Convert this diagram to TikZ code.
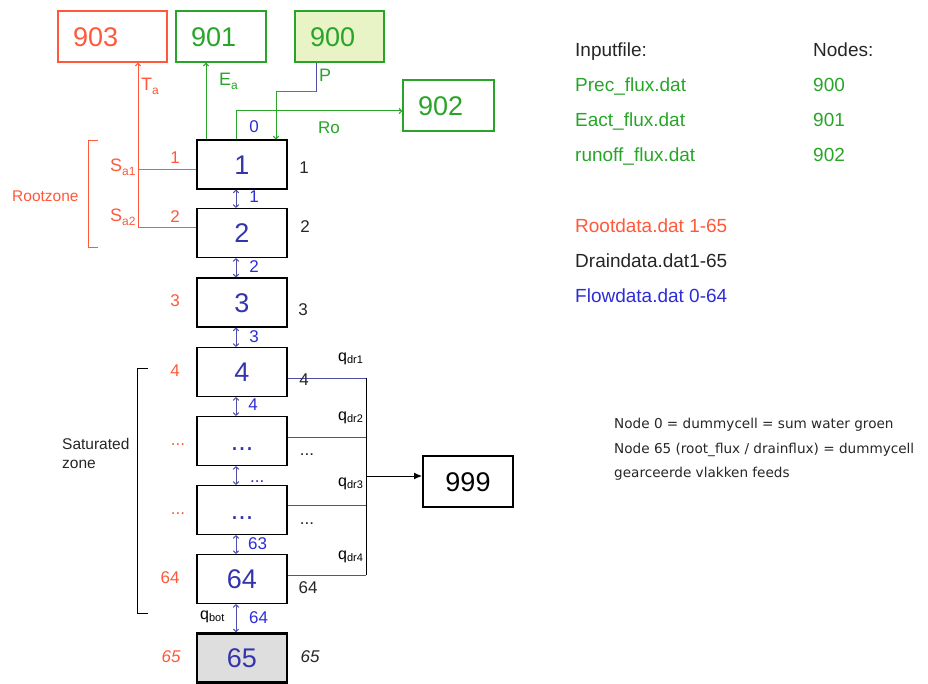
\documentclass[tikz,border=0pt]{standalone}
\usepackage{fontspec}
\setmainfont{Liberation Sans}
\newfontfamily\notefont{DejaVu Sans}
\usetikzlibrary{arrows.meta}
\definecolor{cred}{RGB}{255,88,58}
\definecolor{cgreen}{RGB}{40,165,40}
\definecolor{cfill}{RGB}{232,243,198}
\definecolor{cnum}{RGB}{52,52,172}
\definecolor{cblue}{RGB}{45,45,215}
\definecolor{cdrain}{RGB}{80,80,170}
\definecolor{cgray}{RGB}{222,222,222}
\newcommand{\qsub}[2]{#1\raisebox{-0.35ex}{\fontsize{11}{12}\selectfont #2}}
\begin{document}
\begin{tikzpicture}[x=1pt,y=-1pt,
  bigfont/.style={font=\fontsize{27}{30}\selectfont, text height=19.4pt, text depth=0pt},
  topbox/.style={bigfont, line width=1.8pt, minimum height=51pt, inner xsep=15pt, inner ysep=0pt, align=left},
  cell/.style={bigfont, draw=black, line width=1.3pt, minimum width=90pt, minimum height=49pt, inner sep=0pt, text=cnum},
  lbl/.style={font=\fontsize{17}{20}\selectfont, inner sep=0pt, anchor=base},
  qlbl/.style={font=\fontsize{16}{18}\selectfont, inner sep=0pt, anchor=base west, text=black},
  rt/.style={font=\fontsize{19}{22}\selectfont, inner sep=0pt, anchor=base west},
  note/.style={font=\notefont\fontsize{13.6}{16}\selectfont, inner sep=0pt, anchor=base west, text=black!85},
  tip/.style={-{To[length=3.5pt,width=6pt]}},
  flow/.style={cdrain, line width=1pt, {To[length=3.5pt,width=6pt]}-{To[length=3.5pt,width=6pt]}},
  drain/.style={cdrain, line width=1pt},
  conn/.style={line width=1pt}
]
\useasboundingbox (0,0) rectangle (928,684);

% top boxes
\node[topbox, draw=cred, text=cred, text width=79pt] (n903) at (112.5,36.5) {903};
\node[topbox, draw=cgreen, text=cgreen, text width=60pt] (n901) at (221,36.5) {901};
\node[topbox, draw=cgreen, fill=cfill, text=cgreen, text width=59pt] (n900) at (339.5,36.5) {900};
\node[topbox, draw=cgreen, text=cgreen, text width=61pt] (n902) at (448.5,105.5) {902};

% column cells
\node[cell] (c1) at (242,164.5) {1};
\node[cell] (c2) at (242,233) {2};
\node[cell] (c3) at (242,302.5) {3};
\node[cell] (c4) at (242,372) {4};
\node[cell] (c5) at (242,441) {...};
\node[cell] (c6) at (242,510) {...};
\node[cell] (c64) at (242,579) {64};
\node[cell, fill=cgray, line width=2.6pt] (c65) at (242,658) {65};

\node[bigfont, draw=black, line width=2pt, minimum width=90pt, minimum height=51pt, inner sep=0pt] (n999) at (468,481.5) {999};

% root extraction (red)
\coordinate (ra1) at (138,170);
\coordinate (ra2) at (138,228);
\draw[cred, conn] (ra1) -- (ra1 -| c1.west);
\draw[cred, conn] (ra2) -- (ra2 -| c2.west);
\draw[cred, conn, tip] (ra2) -- (ra2 |- n903.south);

% evaporation
\coordinate (ea) at (206,100);
\draw[cgreen, conn, tip] (ea |- c1.north) -- (ea |- n901.south);

% precipitation
\coordinate (p1) at (316,92);
\coordinate (p2) at (276,92);
\draw[cdrain, conn] (p1 |- n900.south) -- (p1);
\draw[cgreen, conn, tip] (p1) -- (p2) -- (p2 |- c1.north);

% runoff
\coordinate (r1) at (236,111);
\draw[cgreen, conn, tip] (r1 |- c1.north) -- (r1) -- (r1 -| n902.west);

% flows between cells
\coordinate (fx) at (236,0);
\foreach \a/\b in {c1/c2,c2/c3,c3/c4,c4/c5,c5/c6,c6/c64,c64/c65}
  \draw[flow] (\a.south -| fx) -- (\b.north -| fx);

% drains
\coordinate (d1) at (366,378);
\coordinate (d2) at (366,437);
\coordinate (d3) at (366,505);
\coordinate (d4) at (366,575);
\coordinate (dj) at (366,476);
\draw[drain] (c4.east |- d1) -- (d1);
\draw[drain] (c5.east |- d2) -- (d2);
\draw[drain] (c6.east |- d3) -- (d3);
\draw[drain] (c64.east |- d4) -- (d4);
\draw[black, conn] (d1) -- (d4);
\draw[black, conn, -{Latex[length=8pt,width=7pt]}] (dj) -- (dj -| n999.west);

% brackets
\draw[cred, conn] (98,141) -- (88,141) -- (88,248) -- (98,248);
\draw[black, conn] (148,368) -- (137,368) -- (137,613) -- (148,613);
\node[font=\fontsize{15.5}{18}\selectfont, text=cred, inner sep=0pt, anchor=base west] (lroot) at (12,201.5) {Rootzone};
\node[font=\fontsize{15.5}{19}\selectfont, text=black!85, inner sep=0pt, anchor=base west, align=left] (lsat) at (62,468) {Saturated\\zone};

% flux labels
\node[font=\fontsize{18}{20}\selectfont, text=cred, inner sep=0pt, anchor=base west] (lta) at (141,91) {T\raisebox{-0.35ex}{\fontsize{12}{13}\selectfont a}};
\node[font=\fontsize{18}{20}\selectfont, text=cgreen, inner sep=0pt, anchor=base west] (lea) at (219,86) {E\raisebox{-0.35ex}{\fontsize{12}{13}\selectfont a}};
\node[font=\fontsize{18}{20}\selectfont, text=cgreen, inner sep=0pt, anchor=base west] (lp) at (319,82) {P};
\node[lbl, text=cblue] (l0) at (254,133) {0};
\node[font=\fontsize{17}{20}\selectfont, text=cgreen, inner sep=0pt, anchor=base west] (lro) at (318,134) {Ro};
\node[font=\fontsize{18}{20}\selectfont, text=cred, inner sep=0pt, anchor=base west] (ls1) at (110,172) {S\raisebox{-0.35ex}{\fontsize{12}{13}\selectfont a1}};
\node[font=\fontsize{18}{20}\selectfont, text=cred, inner sep=0pt, anchor=base west] (ls2) at (110,222) {S\raisebox{-0.35ex}{\fontsize{12}{13}\selectfont a2}};

% left (red) numbers
\node[lbl, text=cred] (rl1) at (175,164) {1};
\node[lbl, text=cred] (rl2) at (175,223) {2};
\node[lbl, text=cred] (rl3) at (175,307) {3};
\node[lbl, text=cred] (rl4) at (175,376) {4};
\node[lbl, text=cred] (rl5) at (178,445) {...};
\node[lbl, text=cred] (rl6) at (178,514) {...};
\node[lbl, text=cred] (rl64) at (170,583) {64};
\node[lbl, text=cred, font=\fontsize{17}{20}\selectfont\itshape] (rl65) at (171,662) {65};

% right (black) numbers
\node[lbl, text=black!85] (bl1) at (304,174) {1};
\node[lbl, text=black!85] (bl2) at (305,233) {2};
\node[lbl, text=black!85] (bl3) at (303,316) {3};
\node[lbl, text=black!85] (bl4) at (304,385) {4};
\node[lbl, text=black!85] (bl5) at (307,455) {...};
\node[lbl, text=black!85] (bl6) at (307,524) {...};
\node[lbl, text=black!85] (bl64) at (308,593) {64};
\node[lbl, text=black!85, font=\fontsize{17}{20}\selectfont\itshape] (bl65) at (310,662) {65};

% flow (blue) numbers
\node[lbl, text=cblue] (fl1) at (254,203) {1};
\node[lbl, text=cblue] (fl2) at (254,273) {2};
\node[lbl, text=cblue] (fl3) at (254,342) {3};
\node[lbl, text=cblue] (fl4) at (253,410) {4};
\node[lbl, text=cblue, anchor=base west] (fl5) at (250,482) {...};
\node[lbl, text=cblue, anchor=base west] (fl63) at (248,549) {63};
\node[lbl, text=cblue, anchor=base west] (fl64) at (249,623) {64};

% drain labels
\node[qlbl] (q1) at (338,361) {\qsub{q}{dr1}};
\node[qlbl] (q2) at (338,420) {\qsub{q}{dr2}};
\node[qlbl] (q3) at (338,486) {\qsub{q}{dr3}};
\node[qlbl] (q4) at (338,559) {\qsub{q}{dr4}};
\node[qlbl] (qb) at (200,619) {\qsub{q}{bot}};

% legend
\node[rt, text=black!85] (hin) at (575,57) {Inputfile:};
\node[rt, text=black!85] (hno) at (813,57) {Nodes:};
\node[rt, text=cgreen] (f1) at (575,92) {Prec\_flux.dat};
\node[rt, text=cgreen] (f2) at (575,127) {Eact\_flux.dat};
\node[rt, text=cgreen] (f3) at (575,162) {runoff\_flux.dat};
\node[rt, text=cgreen] (k1) at (813,92) {900};
\node[rt, text=cgreen] (k2) at (813,127) {901};
\node[rt, text=cgreen] (k3) at (813,162) {902};
\node[rt, text=cred] (f4) at (575,233) {Rootdata.dat 1-65};
\node[rt, text=black!85] (f5) at (575,268) {Draindata.dat1-65};
\node[rt, text=cblue] (f6) at (575,303) {Flowdata.dat 0-64};

\node[note] (n1) at (614,428) {Node 0 = dummycell = sum water groen};
\node[note] (n2) at (614,453) {Node 65 (root\_flux / drainflux) = dummycell};
\node[note] (n3) at (614,477) {gearceerde vlakken feeds};
\end{tikzpicture}
\end{document}
